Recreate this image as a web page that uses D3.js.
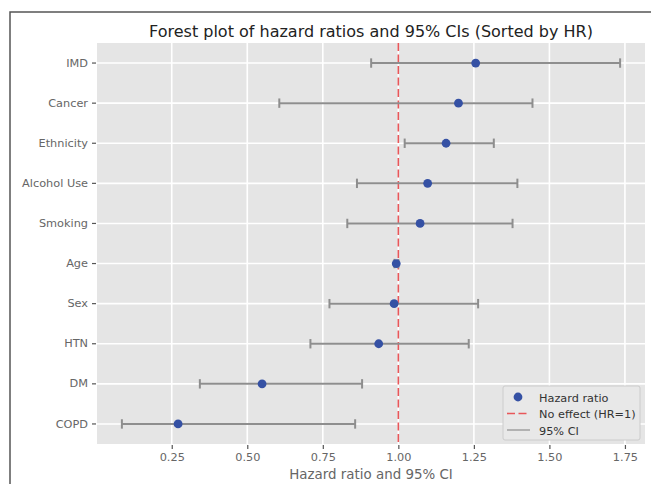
<!DOCTYPE html>
<html>
<head>
<meta charset="utf-8" />
<script src="https://d3js.org/d3.v7.min.js"></script>
<style>
  body { margin: 0; background: #fff; }
  text { font-family: "DejaVu Sans", sans-serif; }
</style>
</head>
<body>
<div id="chart"></div>
<script>
// forest plot data (top to bottom, sorted by HR)
var factors = ["IMD", "Cancer", "Ethnicity", "Alcohol Use", "Smoking", "Age", "Sex", "HTN", "DM", "COPD"];
var hr    = [1.256, 1.199, 1.158, 1.097, 1.072, 0.993, 0.986, 0.935, 0.549, 0.271];
var lower = [0.910, 0.606, 1.021, 0.863, 0.831, 0.987, 0.772, 0.709, 0.343, 0.085];
var upper = [1.734, 1.444, 1.316, 1.394, 1.378, 1.000, 1.264, 1.233, 0.880, 0.857];
var xTicks = [0.25, 0.50, 0.75, 1.00, 1.25, 1.50, 1.75];

var W = 651, H = 484;
var margin = {top: 43, right: 6, bottom: 40, left: 97};
var width = W - margin.left - margin.right,
    height = H - margin.top - margin.bottom;

var svg = d3.select("#chart").append("svg")
  .attr("width", W).attr("height", H);

// figure frame (partly cropped)
svg.append("rect")
  .attr("x", 10).attr("y", 12).attr("width", W + 20).attr("height", H + 20)
  .attr("fill", "none").attr("stroke", "#555").attr("stroke-width", 1.5);

var g = svg.append("g").attr("transform", "translate(" + margin.left + "," + margin.top + ")");

var x = d3.scaleLinear().domain([0.0026, 1.8164]).range([0, width]);
var y = d3.scaleBand().domain(factors).range([0, height]).paddingInner(0).paddingOuter(0);
var cy = function(d) { return y(d) + y.bandwidth() / 2; };

g.append("rect").attr("width", width).attr("height", height).attr("fill", "#E5E5E5");

// grid
g.selectAll(".vgrid").data(xTicks).enter().append("line")
  .attr("x1", function(d) { return x(d); }).attr("x2", function(d) { return x(d); })
  .attr("y1", 0).attr("y2", height)
  .attr("stroke", "#fff").attr("stroke-width", 1.6);
g.selectAll(".hgrid").data(factors).enter().append("line")
  .attr("x1", 0).attr("x2", width)
  .attr("y1", cy).attr("y2", cy)
  .attr("stroke", "#fff").attr("stroke-width", 1.6);

// axes
var xAxis = g.append("g").attr("transform", "translate(0," + height + ")")
  .call(d3.axisBottom(x).tickValues(xTicks).tickFormat(d3.format(".2f")).tickSize(4).tickPadding(5));
var yAxis = g.append("g")
  .call(d3.axisLeft(y).tickSize(4).tickPadding(5));
[xAxis, yAxis].forEach(function(a) {
  a.select(".domain").remove();
  a.selectAll(".tick line").attr("stroke", "#555").attr("stroke-width", 1.2);
  a.selectAll("text").attr("fill", "#666").style("font-size", "11.3px")
    .style("font-family", "DejaVu Sans, sans-serif");
});
xAxis.selectAll(".tick line").attr("transform", "translate(0,1)");
yAxis.selectAll(".tick line").attr("transform", "translate(-1,0)");

// no-effect line
g.append("line")
  .attr("x1", x(1)).attr("x2", x(1)).attr("y1", 0).attr("y2", height)
  .attr("stroke", "#e8575a").attr("stroke-width", 1.6)
  .attr("stroke-dasharray", "8,3.5");

// error bars
var rows = factors.map(function(f, i) { return {f: f, hr: hr[i], lo: lower[i], hi: upper[i]}; });
var eb = g.selectAll(".eb").data(rows).enter().append("g");
eb.append("line")
  .attr("x1", function(d) { return x(d.lo); }).attr("x2", function(d) { return x(d.hi); })
  .attr("y1", function(d) { return cy(d.f); }).attr("y2", function(d) { return cy(d.f); })
  .attr("stroke", "#8e8e8e").attr("stroke-width", 2);
["lo", "hi"].forEach(function(k) {
  eb.append("line")
    .attr("x1", function(d) { return x(d[k]); }).attr("x2", function(d) { return x(d[k]); })
    .attr("y1", function(d) { return cy(d.f) - 4.7; }).attr("y2", function(d) { return cy(d.f) + 4.7; })
    .attr("stroke", "#8e8e8e").attr("stroke-width", 2);
});
eb.append("circle")
  .attr("cx", function(d) { return x(d.hr); }).attr("cy", function(d) { return cy(d.f); })
  .attr("r", 4.4).attr("fill", "#3551a4");

// title and axis label
svg.append("text").attr("x", margin.left + width / 2).attr("y", 37)
  .attr("text-anchor", "middle").style("font-size", "16px").attr("fill", "#222")
  .text("Forest plot of hazard ratios and 95% CIs (Sorted by HR)");
svg.append("text").attr("x", margin.left + width / 2).attr("y", 479)
  .attr("text-anchor", "middle").style("font-size", "13.4px").attr("fill", "#666")
  .text("Hazard ratio and 95% CI");

// legend
var lg = svg.append("g").attr("transform", "translate(503,386)");
lg.append("rect").attr("width", 137).attr("height", 54).attr("rx", 2)
  .attr("fill", "#E8E8E8").attr("stroke", "#cccccc").attr("stroke-width", 1);
lg.append("circle").attr("cx", 15).attr("cy", 11).attr("r", 4.4).attr("fill", "#3551a4");
lg.append("line").attr("x1", 4).attr("x2", 27).attr("y1", 27.5).attr("y2", 27.5)
  .attr("stroke", "#e8575a").attr("stroke-width", 1.6).attr("stroke-dasharray", "8,3.5");
lg.append("line").attr("x1", 4).attr("x2", 27).attr("y1", 44).attr("y2", 44)
  .attr("stroke", "#8e8e8e").attr("stroke-width", 1.2);
var lgText = ["Hazard ratio", "No effect (HR=1)", "95% CI"];
lg.selectAll(".lt").data(lgText).enter().append("text")
  .attr("x", 36).attr("y", function(d, i) { return 15.5 + i * 16.5; })
  .style("font-size", "11.3px").attr("fill", "#333")
  .text(function(d) { return d; });
</script>
</body>
</html>
